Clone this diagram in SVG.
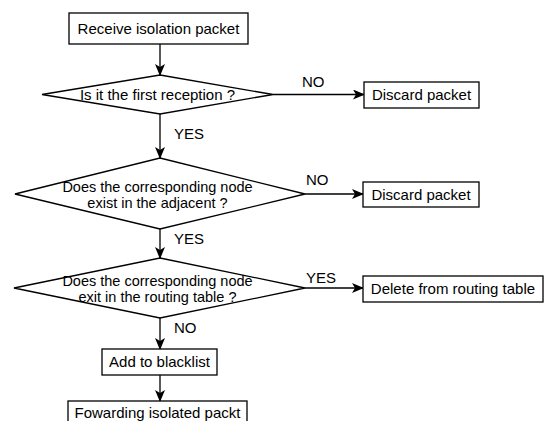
<svg xmlns="http://www.w3.org/2000/svg" width="547" height="421" viewBox="0 0 547 421">
<defs>
<marker id="arr" viewBox="0 0 12 10" refX="11" refY="5" markerWidth="12" markerHeight="10" markerUnits="userSpaceOnUse" orient="auto">
<path d="M0,0 L12,5 L0,10 L3,5 Z" fill="#000"/>
</marker>
<style>
.s{fill:#fff;stroke:#000;stroke-width:1.3}
.t{font-family:"Liberation Sans",Arial,Helvetica,sans-serif;font-size:15px;fill:#000}
.d{font-size:14.5px}
.m{text-anchor:middle}
.c{stroke:#000;stroke-width:1.3;fill:none;marker-end:url(#arr)}
</style>
</defs>
<rect width="547" height="421" fill="#fff"/>
<g id="connectors">
<line class="c" x1="160" y1="44" x2="160" y2="75"/>
<line class="c" x1="160" y1="114" x2="160" y2="158"/>
<line class="c" x1="273" y1="94.5" x2="364" y2="94.5"/>
<line class="c" x1="160" y1="229" x2="160" y2="258"/>
<line class="c" x1="305" y1="194" x2="363" y2="194"/>
<line class="c" x1="160" y1="318" x2="160" y2="349"/>
<line class="c" x1="305" y1="288" x2="363" y2="288"/>
<line class="c" x1="160" y1="375" x2="160" y2="401"/>
<text class="t" x="302" y="87">NO</text>
<text class="t" x="174" y="139">YES</text>
<text class="t" x="306" y="185">NO</text>
<text class="t" x="174" y="244">YES</text>
<text class="t" x="306" y="283">YES</text>
<text class="t" x="174" y="333">NO</text>
</g>
<g id="receive">
<rect class="s" x="69" y="13" width="179" height="31"/>
<text class="t m" x="158.5" y="34">Receive isolation packet</text>
</g>
<g id="first-reception">
<polygon class="s" points="160,75 273,94.5 160,114 42,94.5"/>
<text class="t m" x="157.5" y="100">Is it the first reception ?</text>
</g>
<g id="discard1">
<rect class="s" x="364" y="82" width="115" height="26"/>
<text class="t m" x="421.5" y="100">Discard packet</text>
</g>
<g id="adjacent">
<polygon class="s" points="160,158 305,194 160,229 15,194"/>
<text class="t d m" x="157.5" y="191.5">Does the corresponding node</text>
<text class="t d m" x="157.5" y="207.5">exist in the adjacent ?</text>
</g>
<g id="discard2">
<rect class="s" x="363" y="182" width="116" height="25"/>
<text class="t m" x="421" y="200">Discard packet</text>
</g>
<g id="routing">
<polygon class="s" points="160,258 305,288 160,318 14,288"/>
<text class="t d m" x="157.5" y="285.5">Does the corresponding node</text>
<text class="t d m" x="157.5" y="301.5">exit in the routing table ?</text>
</g>
<g id="delete">
<rect class="s" x="363" y="276" width="180" height="26"/>
<text class="t m" x="453" y="294">Delete from routing table</text>
</g>
<g id="blacklist">
<rect class="s" x="102" y="349" width="115" height="26"/>
<text class="t m" x="159.5" y="367">Add to blacklist</text>
</g>
<g id="forwarding">
<rect class="s" x="68" y="401" width="179" height="30"/>
<text class="t m" x="157.5" y="418">Fowarding isolated packt</text>
</g>
</svg>
